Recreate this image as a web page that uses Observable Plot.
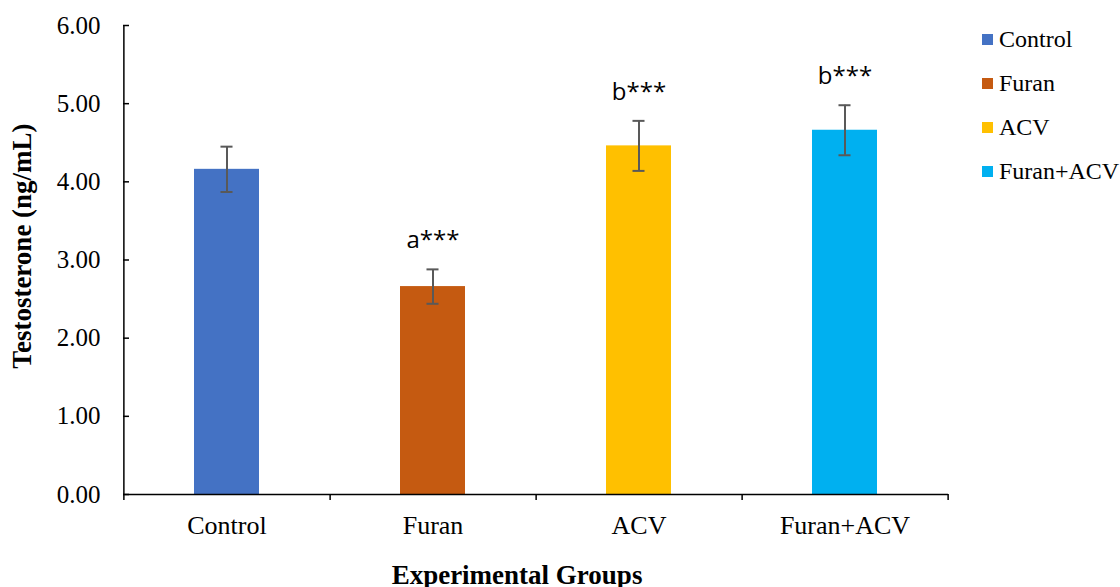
<!DOCTYPE html>
<html>
<head>
<meta charset="utf-8">
<script src="https://cdn.jsdelivr.net/npm/d3@7"></script>
<script src="https://cdn.jsdelivr.net/npm/@observablehq/plot@0.6"></script>
<style>
  html, body { margin: 0; padding: 0; background: #fff; }
  #wrap { position: relative; width: 1120px; height: 587px; }
  #legend { position: absolute; left: 982px; top: 17px; color: #000; }
  .item { display: flex; align-items: center; height: 44px; white-space: nowrap; font-family: 'Liberation Serif', serif; font-size: 24px; }
  .sw { width: 11px; height: 11px; margin-right: 6px; flex: none; }
</style>
</head>
<body>
<div id="wrap"><div id="chart"></div><div id="legend"></div></div>
<script>
const groups = ["Control", "Furan", "ACV", "Furan+ACV"];
const means = [4.16, 2.66, 4.46, 4.66];
const errors = [0.29, 0.22, 0.32, 0.32];
const letters = ["", "a***", "b***", "b***"];
const colors = ["#4472C4", "#C55A11", "#FFC000", "#00B0F0"];
const yTicks = [0, 1, 2, 3, 4, 5, 6];

const data = groups.map((g, i) => ({group: g, mean: means[i], lo: means[i] - errors[i], hi: means[i] + errors[i], label: letters[i]}));

const W = 1120, H = 587, mL = 123, mR = 172, mT = 25, mB = 93;
const plotW = W - mL - mR, plotH = H - mT - mB;
const pad = 0.685;
const step = plotW / groups.length;
const bw = step * (1 - pad);
const capW = 12;
const axisColor = "#000";

const chart = Plot.plot({
  width: W, height: H,
  marginLeft: mL, marginRight: mR, marginTop: mT, marginBottom: mB,
  style: {fontFamily: "'Liberation Serif', 'Times New Roman', serif", background: "#fff", color: "#000"},
  x: {domain: groups, paddingInner: pad, paddingOuter: pad / 2, align: 0.5},
  y: {domain: [0, 6]},
  color: {domain: groups, range: colors},
  marks: [
    Plot.barY(data, {x: "group", y: "mean", fill: "group"}),
    Plot.ruleX(data, {x: "group", y1: "lo", y2: "hi", stroke: "#595959", strokeWidth: 2}),
    Plot.tickY(data, {x: "group", y: "lo", stroke: "#595959", strokeWidth: 2, insetLeft: (bw - capW) / 2, insetRight: (bw - capW) / 2}),
    Plot.tickY(data, {x: "group", y: "hi", stroke: "#595959", strokeWidth: 2, insetLeft: (bw - capW) / 2, insetRight: (bw - capW) / 2}),
    Plot.text(data, {x: "group", y: "hi", text: "label", dy: -29, fontFamily: "'Open Sans', sans-serif", fontSize: 24, fill: "#000"}),
    // axes lines
    Plot.ruleY([0], {stroke: axisColor, strokeWidth: 1.5}),
    Plot.ruleX([groups[0]], {x: d => d, dx: -step / 2, stroke: axisColor, strokeWidth: 1.5, insetBottom: -6}),
    // x boundary ticks
    Plot.ruleX(groups, {x: d => d, dx: step / 2, stroke: axisColor, strokeWidth: 1.5, insetTop: plotH, insetBottom: -6}),
    // y ticks (inward)
    Plot.ruleY(yTicks, {y: d => d, stroke: axisColor, strokeWidth: 1.5, insetRight: plotW - 6}),
    Plot.axisY({ticks: yTicks, tickSize: 0, tickPadding: 23, tickFormat: d3.format(".2f"), fontSize: 25, label: null}),
    Plot.axisX({tickSize: 0, tickPadding: 21, fontSize: 26, label: null}),
    Plot.text(["Testosterone (ng/mL)"], {frameAnchor: "left", textAnchor: "middle", lineAnchor: "middle", rotate: -90, dx: -101, dy: -14, fontWeight: "bold", fontSize: 27, fill: "#000"}),
    Plot.text(["Experimental Groups"], {frameAnchor: "bottom", textAnchor: "middle", lineAnchor: "middle", dy: 81, dx: -19, fontWeight: "bold", fontSize: 27, fill: "#000"})
  ]
});
document.getElementById("chart").appendChild(chart);

const legend = document.getElementById("legend");
groups.forEach((g, i) => {
  const item = document.createElement("div");
  item.className = "item";
  const sw = document.createElement("span");
  sw.className = "sw";
  sw.style.background = colors[i];
  const t = document.createElement("span");
  t.textContent = g;
  item.appendChild(sw);
  item.appendChild(t);
  legend.appendChild(item);
});
</script>
</body>
</html>
